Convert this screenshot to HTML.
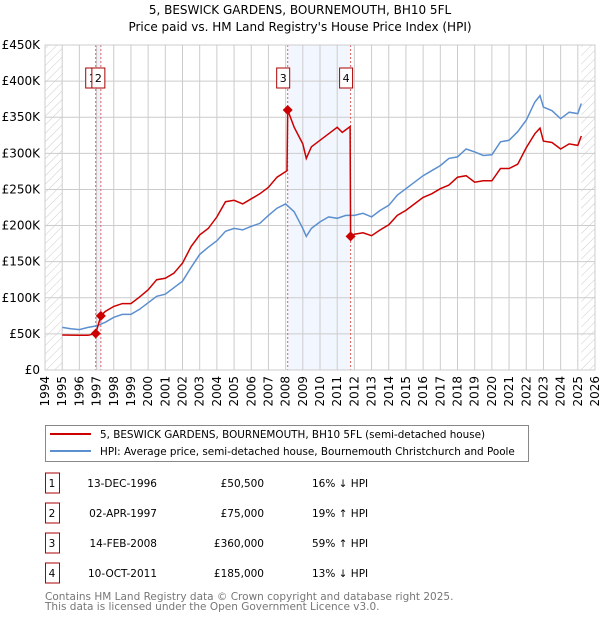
<!DOCTYPE html>
<html><head><meta charset="utf-8"><style>
body{margin:0;background:#fff;}
svg text{font-family:"DejaVu Sans","Liberation Sans",sans-serif;}
</style></head><body>
<svg id="chart" width="600" height="620" xmlns="http://www.w3.org/2000/svg">
<defs><pattern id="hatch" width="6" height="6" patternUnits="userSpaceOnUse" patternTransform="rotate(45)"><line x1="0" y1="0" x2="0" y2="6" stroke="#ccc" stroke-width="1"/></pattern></defs>
<text x="300" y="14" text-anchor="middle" font-size="12">5, BESWICK GARDENS, BOURNEMOUTH, BH10 5FL</text>
<text x="300" y="31" text-anchor="middle" font-size="12">Price paid vs. HM Land Registry's House Price Index (HPI)</text>
<g id="grid"></g><g id="marks"></g><g id="axes"></g>
<g>
<rect x="45.5" y="425.5" width="483" height="36" fill="#fff" stroke="#888"/>
<line x1="50" y1="434" x2="91" y2="434" stroke="#cc0000" stroke-width="2"/>
<text x="100" y="438" font-size="10.4">5, BESWICK GARDENS, BOURNEMOUTH, BH10 5FL (semi-detached house)</text>
<line x1="50" y1="451" x2="91" y2="451" stroke="#5b8fd0" stroke-width="2"/>
<text x="100" y="455" font-size="10.4">HPI: Average price, semi-detached house, Bournemouth Christchurch and Poole</text>
</g>
<g id="table" font-size="10.5"></g>
<text x="45" y="600" font-size="10.5" fill="#777">Contains HM Land Registry data © Crown copyright and database right 2025.</text>
<text x="45" y="610" font-size="10.5" fill="#777">This data is licensed under the Open Government Licence v3.0.</text>
</svg>
<script>
const hpiYears=[1995,1995.5,1996,1996.5,1997,1997.5,1998,1998.5,1999,1999.5,2000,2000.5,2001,2001.5,2002,2002.5,2003,2003.5,2004,2004.5,2005,2005.5,2006,2006.5,2007,2007.5,2008,2008.5,2009,2009.2,2009.5,2010,2010.5,2011,2011.5,2012,2012.5,2013,2013.5,2014,2014.5,2015,2015.5,2016,2016.5,2017,2017.5,2018,2018.5,2019,2019.5,2020,2020.5,2021,2021.5,2022,2022.5,2022.8,2023,2023.5,2024,2024.5,2025,2025.2];
const hpiValues=[59,57,56,59,61,66,73,77,77,84,93,102,105,114,123,142,160,170,179,192,196,194,199,203,214,224,230,219,196,185,196,205,212,210,214,214,217,212,221,228,242,251,260,269,276,283,293,295,306,302,297,298,316,318,330,346,371,380,364,359,348,357,355,369];
const priceYears=[1995,1996,1996.5,1996.95,1997.25,1997.5,1998,1998.5,1999,1999.5,2000,2000.5,2001,2001.5,2002,2002.5,2003,2003.5,2004,2004.5,2005,2005.5,2006,2006.5,2007,2007.5,2008.08,2008.12,2008.5,2009,2009.2,2009.5,2010,2010.5,2011,2011.3,2011.75,2011.78,2012,2012.5,2013,2013.5,2014,2014.5,2015,2015.5,2016,2016.5,2017,2017.5,2018,2018.5,2019,2019.5,2020,2020.5,2021,2021.5,2022,2022.5,2022.8,2023,2023.5,2024,2024.5,2025,2025.2];
const priceValues=[48.5,48,48,50.5,75,81,88,92,92,101,111,125,127,134,148,171,187,196,212,233,235,230,237,244,253,267,276,360,336,313,293,309,318,327,336,329,337,185,188,190,186,194,201,214,221,230,239,244,251,256,267,269,260,262,262,279,279,285,308,327,335,317,315,306,313,311,324];
const saleLabels=["1","2","3","4"];
const saleYears=[1996.95,1997.25,2008.12,2011.78];
const saleValues=[50.5,75,360,185];
const saleDates=["13-DEC-1996","02-APR-1997","14-FEB-2008","10-OCT-2011"];
const salePrices=["£50,500","£75,000","£360,000","£185,000"];
const saleHpi=["16% ↓ HPI","19% ↑ HPI","59% ↑ HPI","13% ↓ HPI"];
const yTicks=[0,50,100,150,200,250,300,350,400,450];
const yTickLabels=["£0","£50K","£100K","£150K","£200K","£250K","£300K","£350K","£400K","£450K"];
const xTicks=[1994,1995,1996,1997,1998,1999,2000,2001,2002,2003,2004,2005,2006,2007,2008,2009,2010,2011,2012,2013,2014,2015,2016,2017,2018,2019,2020,2021,2022,2023,2024,2025,2026];
const L=45,R=595,T=45,B=370;
const xs=y=>L+(y-1994)*(R-L)/32;
const ys=v=>B-v*(B-T)/450;
const NS="http://www.w3.org/2000/svg";
function mk(tag,parent,attrs){const e=document.createElementNS(NS,tag);for(const k in attrs)e.setAttribute(k,attrs[k]);parent.appendChild(e);return e;}
const grid=document.getElementById('grid'),marks=document.getElementById('marks'),axes=document.getElementById('axes'),table=document.getElementById('table');
let r=mk('rect',grid,{x:L,y:T,width:xs(1995)-L,height:B-T,fill:'url(#hatch)'});


r=mk('rect',grid,{x:xs(2025.2),y:T,width:R-xs(2025.2),height:B-T,fill:'url(#hatch)'});


r=mk('rect',grid,{x:xs(saleYears[0]),y:T,width:xs(saleYears[1])-xs(saleYears[0]),height:B-T,fill:'#eef3fc'});


r=mk('rect',grid,{x:xs(saleYears[2]),y:T,width:xs(saleYears[3])-xs(saleYears[2]),height:B-T,fill:'#f2f6fe'});


yTicks.forEach((v,i)=>{
 const l=mk('line',grid,{x1:L,x2:R,y1:ys(v),y2:ys(v),stroke:'#ccc'});
 
 
 const t=mk('text',axes,{x:L-5,y:ys(v)+4,'text-anchor':'end','font-size':'12'});
 t.textContent=yTickLabels[i];
 
 
});
xTicks.forEach(y=>{
 const l=mk('line',grid,{x1:xs(y),x2:xs(y),y1:T,y2:B,stroke:'#ccc'});
 
 
 const t=mk('text',axes,{x:0,y:0,'text-anchor':'end','font-size':'12',transform:`translate(${xs(y)+4},${B+6}) rotate(-90)`});
 t.textContent=y;
 
 
});
let ax=mk('rect',axes,{x:L,y:T,width:R-L,height:B-T,fill:'none',stroke:'#ccc'});


saleYears.forEach((y,i)=>{
 const l=mk('line',marks,{x1:xs(y),x2:xs(y),y1:T,y2:B,stroke:'#e06060','stroke-dasharray':'2,2','stroke-width':'1'});
 
 
});
const pts=(X,V)=>X.map((y,i)=>xs(y).toFixed(1)+','+ys(V[i]).toFixed(1)).join(' ');
let p=mk('polyline',marks,{points:pts(hpiYears,hpiValues),fill:'none',stroke:'#5b8fd0','stroke-width':'1.5'});


p=mk('polyline',marks,{points:pts(priceYears,priceValues),fill:'none',stroke:'#cc0000','stroke-width':'1.5'});


saleYears.forEach((y,i)=>{
 const cx=xs(y),cy=ys(saleValues[i]);
 const d=mk('polygon',marks,{points:`${cx},${cy-5} ${cx+5},${cy} ${cx},${cy+5} ${cx-5},${cy}`,fill:'#cc0000'});
 
 
 const bx=cx-(i==0?10:(i==1?9:11));
 const b=mk('rect',marks,{x:bx,y:68,width:13,height:20,fill:'#fff',stroke:'#aa0000'});
 
 
 const t=mk('text',marks,{x:bx+6.5,y:82,'text-anchor':'middle','font-size':'11'});
 t.textContent=saleLabels[i];
 
 
 const ry=483+30*i;
 const tb=mk('rect',table,{x:45.5,y:ry-10,width:14,height:20,fill:'#fff',stroke:'#aa0000'});
 
 
 const cells=[[52,'middle',saleLabels[i],'table-row-number'],[157,'end',saleDates[i],'table-row-date'],[264,'end',salePrices[i],'table-row-price'],[312,'start',saleHpi[i],'table-row-hpi']];
 cells.forEach(c=>{
  const tt=mk('text',table,{x:c[0],y:ry+4,'text-anchor':c[1]});
  tt.textContent=c[2];
  
  
 });
});
</script>
</body></html>
